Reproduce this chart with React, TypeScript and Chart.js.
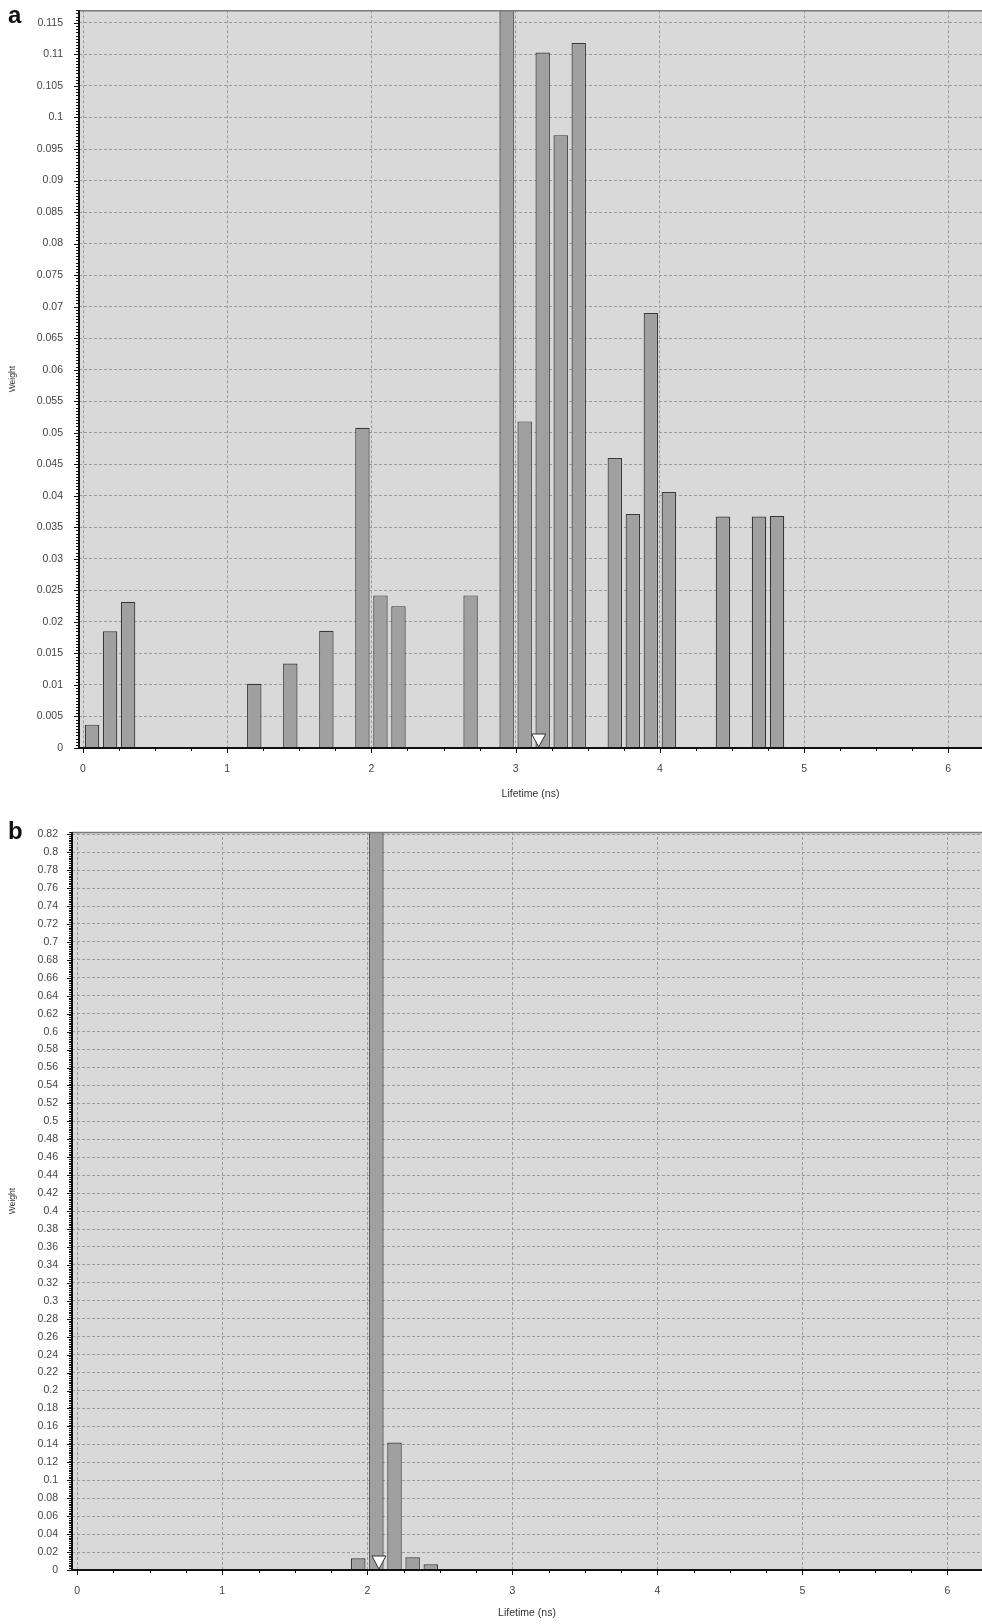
import React, { useEffect, useRef } from "react";
import { Chart, registerables } from "chart.js";

Chart.register(...registerables);

// ---------- Data ----------
const A_LIFETIMES = [
  0.0625, 0.1875, 0.3125, 1.1875, 1.4375, 1.6875, 1.9375, 2.0625, 2.1875, 2.6875,
  2.9375, 3.0625, 3.1875, 3.3125, 3.4375, 3.6875, 3.8125, 3.9375, 4.0625, 4.4375,
  4.6875, 4.8125,
];
const A_WEIGHTS = [
  0.0037, 0.0185, 0.0232, 0.0102, 0.0134, 0.0186, 0.0508, 0.0242, 0.0225, 0.0242,
  0.125, 0.0518, 0.1103, 0.0972, 0.1118, 0.046, 0.0371, 0.069, 0.0406, 0.0367,
  0.0367, 0.0368,
];
const A_MEAN = 3.16;

const B_LIFETIMES = [1.9375, 2.0625, 2.1875, 2.3125, 2.4375];
const B_WEIGHTS = [0.013, 0.85, 0.142, 0.0141, 0.0063];
const B_MEAN = 2.08;

const A_Y_MAX = 0.117;
const A_Y_STEP = 0.005;
const B_Y_MAX = 0.8225;
const B_Y_STEP = 0.02;
const X_STEP = 1;
const X_MINOR_STEP = 0.25;

const X_TITLE = "Lifetime (ns)";
const Y_TITLE = "Weight";
const PANEL_LABELS = ["a", "b"];

const FONT = "'Liberation Sans', Arial, sans-serif";

// ---------- Decoration plugin ----------
const decorPlugin = {
  id: "decor",
  beforeDraw(chart: any) {
    const { ctx, chartArea } = chart;
    const { left, top, right, bottom } = chartArea;
    ctx.save();
    ctx.fillStyle = "#d9d9d9";
    ctx.fillRect(left, top, right - left, bottom - top);
    ctx.restore();
  },
  afterDraw(chart: any, _args: any, opts: any) {
    const { ctx, chartArea, scales } = chart;
    const { left, top, right, bottom } = chartArea;
    const x = scales.x;
    const y = scales.y;
    ctx.save();
    // top border
    ctx.strokeStyle = "#7a7a7a";
    ctx.lineWidth = 1.5;
    ctx.beginPath();
    ctx.moveTo(left, top + 0.5);
    ctx.lineTo(right, top + 0.5);
    ctx.stroke();

    ctx.strokeStyle = "#111";
    ctx.lineWidth = 1;
    // y minor ticks
    const minor = opts.yStep / 10;
    ctx.beginPath();
    for (let i = 0; i * minor <= y.max + 1e-12; i++) {
      const py = Math.round(y.getPixelForValue(i * minor)) + 0.5;
      ctx.moveTo(left - 3, py);
      ctx.lineTo(left, py);
    }
    ctx.stroke();
    // y major ticks
    ctx.beginPath();
    y.ticks.forEach((t: any) => {
      const py = Math.round(y.getPixelForValue(t.value)) + 0.5;
      ctx.moveTo(left - 5, py);
      ctx.lineTo(left, py);
    });
    ctx.stroke();
    // x minor ticks
    ctx.beginPath();
    const startM = Math.ceil(x.min / opts.xMinor);
    for (let i = startM; i * opts.xMinor <= x.max + 1e-9; i++) {
      const px = Math.round(x.getPixelForValue(i * opts.xMinor)) + 0.5;
      ctx.moveTo(px, bottom);
      ctx.lineTo(px, bottom + 3);
    }
    ctx.stroke();
    ctx.beginPath();
    x.ticks.forEach((t: any) => {
      const px = Math.round(x.getPixelForValue(t.value)) + 0.5;
      ctx.moveTo(px, bottom);
      ctx.lineTo(px, bottom + 5);
    });
    ctx.stroke();

    // axis lines
    ctx.lineWidth = 2;
    ctx.beginPath();
    ctx.moveTo(left, top);
    ctx.lineTo(left, bottom + 1);
    ctx.moveTo(left - 1, bottom);
    ctx.lineTo(right, bottom);
    ctx.stroke();

    // mean marker (downward triangle)
    const mx = x.getPixelForValue(opts.mean);
    ctx.lineWidth = 1;
    ctx.fillStyle = "#ffffff";
    ctx.strokeStyle = "#333";
    ctx.beginPath();
    ctx.moveTo(mx, bottom - 1);
    ctx.lineTo(mx - 7, bottom - 14);
    ctx.lineTo(mx + 7, bottom - 14);
    ctx.closePath();
    ctx.fill();
    ctx.stroke();
    ctx.restore();
  },
};

const fmtY = (v: any) => String(Math.round(Number(v) * 10000) / 10000);

function buildConfig(p: any): any {
  return {
    type: "bar",
    data: {
      datasets: [
        {
          data: p.xs.map((xv: number, i: number) => ({ x: xv, y: p.ys[i] })),
          backgroundColor: "#a0a0a0",
          borderColor: "#383838",
          borderWidth: 1.2,
          barPercentage: 0.8,
          categoryPercentage: 1,
        },
      ],
    },
    options: {
      responsive: false,
      animation: false,
      devicePixelRatio: 1,
      layout: { padding: { top: p.padTop, left: 0, right: 0, bottom: 0 }, autoPadding: false },
      plugins: {
        legend: { display: false },
        tooltip: { enabled: false },
        decor: { mean: p.mean, yStep: p.yStep, xMinor: X_MINOR_STEP },
      },
      scales: {
        x: {
          type: "linear",
          min: p.xMin,
          max: p.xMax,
          offset: false,
          grid: { color: "#9c9c9c", lineWidth: 1, drawTicks: false, offset: false },
          border: { display: false, dash: [3, 2] },
          ticks: {
            stepSize: X_STEP,
            includeBounds: false,
            autoSkip: false,
            maxRotation: 0,
            padding: 15,
            color: "#444",
            font: { family: FONT, size: 10.5 },
            callback: (v: any) => String(Math.round(Number(v))),
          },
          title: {
            display: true,
            text: X_TITLE,
            color: "#333",
            font: { family: FONT, size: 10.5 },
            padding: { top: 0, bottom: p.xTitlePad },
          },
          afterFit: (s: any) => {
            s.height = p.xAxisHeight;
          },
        },
        y: {
          type: "linear",
          min: 0,
          max: p.yMax,
          grid: { color: "#9c9c9c", lineWidth: 1, drawTicks: false },
          border: { display: false, dash: [3, 2] },
          ticks: {
            stepSize: p.yStep,
            includeBounds: false,
            autoSkip: false,
            maxTicksLimit: 1000,
            padding: p.yPad,
            color: "#444",
            font: { family: FONT, size: 10.5 },
            callback: fmtY,
          },
          title: {
            display: true,
            text: Y_TITLE,
            color: "#333",
            font: { family: FONT, size: 8.5 },
            padding: { top: 8, bottom: 0 },
          },
          afterFit: (s: any) => {
            s.width = p.yAxisWidth;
          },
        },
      },
    },
    plugins: [decorPlugin],
  };
}

function Panel(props: { cfg: any; width: number; height: number; top: number }) {
  const ref = useRef<HTMLCanvasElement | null>(null);
  useEffect(() => {
    if (!ref.current) return;
    const chart = new Chart(ref.current, buildConfig(props.cfg));
    return () => chart.destroy();
  }, []);
  return (
    <canvas
      ref={ref}
      width={props.width}
      height={props.height}
      style={{ position: "absolute", left: 0, top: props.top, width: props.width, height: props.height }}
    />
  );
}

export default function App() {
  const cfgA = {
    xs: A_LIFETIMES,
    ys: A_WEIGHTS,
    mean: A_MEAN,
    xMin: -0.028,
    xMax: 6.234,
    yMax: A_Y_MAX,
    yStep: A_Y_STEP,
    padTop: 10,
    yAxisWidth: 79,
    xAxisHeight: 62,
    xTitlePad: 10,
    yPad: 16,
  };
  const cfgB = {
    xs: B_LIFETIMES,
    ys: B_WEIGHTS,
    mean: B_MEAN,
    xMin: -0.036,
    xMax: 6.238,
    yMax: B_Y_MAX,
    yStep: B_Y_STEP,
    padTop: 22,
    yAxisWidth: 72,
    xAxisHeight: 54,
    xTitlePad: 5,
    yPad: 14,
  };
  const labelStyle: React.CSSProperties = {
    position: "absolute",
    left: 8,
    fontFamily: FONT,
    fontWeight: "bold",
    fontSize: 24,
    lineHeight: "24px",
    color: "#111",
    zIndex: 2,
  };
  return (
    <div style={{ position: "absolute", left: 0, top: 0, width: 982, height: 1624, background: "#fff", overflow: "hidden" }}>
      <Panel cfg={cfgA} width={982} height={822} top={-12} />
      <Panel cfg={cfgB} width={982} height={814} top={810} />
      <div style={{ ...labelStyle, top: 3 }}>{PANEL_LABELS[0]}</div>
      <div style={{ ...labelStyle, top: 819 }}>{PANEL_LABELS[1]}</div>
    </div>
  );
}
